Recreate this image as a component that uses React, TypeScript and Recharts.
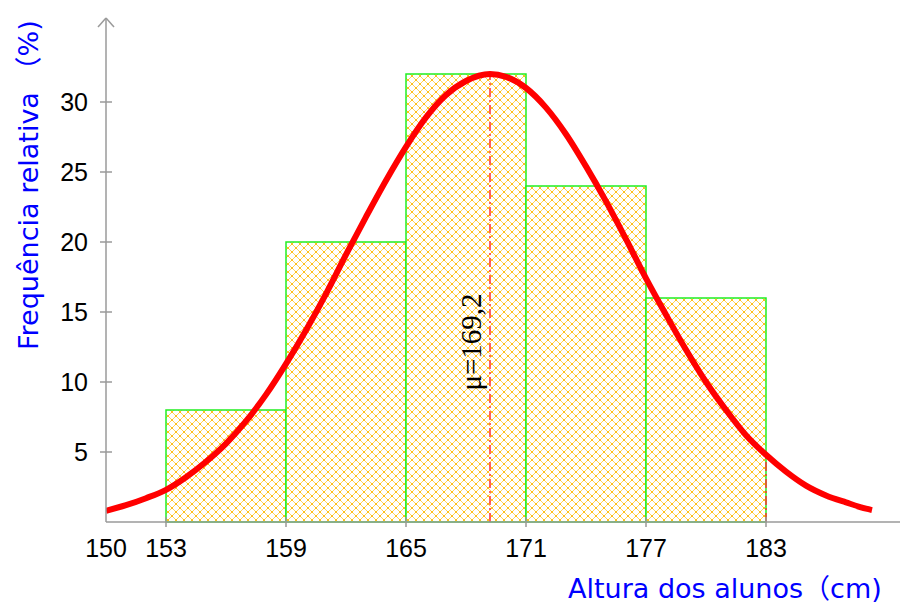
import React from 'react';
import { ComposedChart, Line, XAxis, YAxis, ReferenceArea, ReferenceLine, Label } from 'recharts';

// Histogram bins (height in cm) and relative frequency (%)
const binStarts = [153, 159, 165, 171, 177];
const binEnds = [159, 165, 171, 177, 183];
const relFreq = [8, 20, 32, 24, 16];

// Fitted normal curve
const curveX = [150, 151, 152, 153, 154, 155, 156, 157, 158, 159, 160, 161, 162, 163, 164, 165, 166, 167, 168, 169.2, 170, 171, 172, 173, 174, 175, 176, 177, 178, 179, 180, 181, 182, 183, 184, 185, 186, 187, 188, 188.3];
const curveY = [0.8, 1.2, 1.7, 2.3, 3.2, 4.3, 5.6, 7.2, 9.1, 11.3, 13.7, 16.3, 19.1, 21.8, 24.4, 26.8, 28.9, 30.5, 31.5, 32.0, 31.8, 31.0, 29.6, 27.7, 25.4, 22.9, 20.2, 17.4, 14.8, 12.3, 10.0, 8.0, 6.2, 4.8, 3.6, 2.6, 1.9, 1.4, 0.95, 0.85];

const xTicks = [150, 153, 159, 165, 171, 177, 183];
const yTicks = [5, 10, 15, 20, 25, 30];

const mu = 169.2;
const muPeak = 32.0;
const muLabel = 'μ=169,2';
const tailX = 183;
const tailY = 4.8;

const xTitle = 'Altura dos alunos（cm)';
const yTitle = 'Frequência relativa （%)';

const curveData = curveX.map((x, i) => ({ x, v: curveY[i] }));

const AXIS = '#9a9a9a';
const TICK_FONT = "'Liberation Sans', Arial, sans-serif";
const TITLE_FONT = "'DejaVu Sans', 'Noto Sans CJK SC', sans-serif";

function XTick(props: any) {
  const { x, y, payload } = props;
  return (
    <g>
      {payload.value !== 150 && (
        <line x1={x} x2={x} y1={y - 20} y2={y - 10} stroke={AXIS} strokeWidth={1.5} />
      )}
      <text x={x} y={y + 20} textAnchor="middle" fontFamily={TICK_FONT} fontSize={25} fill="#000">
        {payload.value}
      </text>
    </g>
  );
}

function YTick(props: any) {
  const { x, y, payload } = props;
  return (
    <g>
      <line x1={x + 12} x2={x + 24} y1={y} y2={y} stroke={AXIS} strokeWidth={1.5} />
      <text x={x} y={y + 9} textAnchor="end" fontFamily={TICK_FONT} fontSize={25} fill="#000">
        {payload.value}
      </text>
    </g>
  );
}

function XTitle(props: any) {
  const vb = props.viewBox || { x: 98, y: 514, width: 800, height: 40 };
  return (
    <text x={vb.x + 462} y={vb.y + 76} textAnchor="start" fontFamily={TITLE_FONT} fontSize={27} fill="#0000ff">
      {xTitle}
    </text>
  );
}

function YTitle(props: any) {
  const vb = props.viewBox || { x: 48, y: 10, width: 50, height: 504 };
  const tx = vb.x - 18;
  const ty = vb.y + 332;
  return (
    <text x={tx} y={ty} transform={`rotate(-90, ${tx}, ${ty})`} textAnchor="start" fontFamily={TITLE_FONT} fontSize={27} fill="#0000ff">
      {yTitle}
    </text>
  );
}

function MuLabel(props: any) {
  const vb = props.viewBox || { x: 482, y: 66, width: 0, height: 448 };
  const tx = vb.x - 9;
  const ty = vb.y + 268;
  return (
    <text x={tx} y={ty} transform={`rotate(-90, ${tx}, ${ty})`} textAnchor="middle" fontFamily="'Liberation Serif', 'Times New Roman', serif" fontSize={29} fill="#000">
      {muLabel}
    </text>
  );
}

export default function App() {
  return (
    <div style={{ width: 900, height: 596 }}>
      <svg width={0} height={0} style={{ position: 'absolute' }}>
        <defs>
          <pattern id="crossHatch" patternUnits="userSpaceOnUse" width={8} height={8}>
            <rect width={8} height={8} fill="#ffffff" />
            <path d="M0,0 L8,8 M8,0 L0,8" stroke="#ffd35a" strokeWidth={1} />
            <rect x={3} y={3} width={2} height={2} fill="#ffbf1a" />
            <rect x={-1} y={-1} width={2} height={2} fill="#ffbf1a" />
            <rect x={7} y={-1} width={2} height={2} fill="#ffbf1a" />
            <rect x={-1} y={7} width={2} height={2} fill="#ffbf1a" />
            <rect x={7} y={7} width={2} height={2} fill="#ffbf1a" />
          </pattern>
        </defs>
      </svg>
      <ComposedChart width={900} height={596} data={curveData} margin={{ top: 10, right: 2, bottom: 42, left: 48 }}>
        <XAxis
          type="number"
          dataKey="x"
          domain={[150, 190]}
          ticks={xTicks}
          interval={0}
          allowDataOverflow
          height={40}
          tickSize={5}
          tickMargin={10}
          tickLine={false}
          axisLine={{ stroke: AXIS, strokeWidth: 1.5 }}
          tick={<XTick />}
        >
          <Label content={<XTitle />} />
        </XAxis>
        <YAxis
          type="number"
          domain={[0, 36]}
          ticks={yTicks}
          interval={0}
          allowDataOverflow
          width={50}
          tickSize={6}
          tickMargin={12}
          tickLine={false}
          axisLine={{ stroke: AXIS, strokeWidth: 1.5 }}
          tick={<YTick />}
        >
          <Label content={<YTitle />} />
        </YAxis>
        {binStarts.map((s, i) => (
          <ReferenceArea
            key={`bin-${i}`}
            x1={s}
            x2={binEnds[i]}
            y1={0}
            y2={relFreq[i]}
            fill="url(#crossHatch)"
            fillOpacity={1}
            stroke="#22ee22"
            strokeWidth={1.5}
            ifOverflow="visible"
          />
        ))}
        <ReferenceLine
          segment={[{ x: mu, y: 0 }, { x: mu, y: muPeak }]}
          stroke="#ff3030"
          strokeWidth={1.5}
          strokeDasharray="9 3 2 3"
          ifOverflow="visible"
          label={<MuLabel />}
        />
        <ReferenceLine
          segment={[{ x: tailX, y: 0 }, { x: tailX, y: tailY }]}
          stroke="#ff3030"
          strokeWidth={1.5}
          strokeDasharray="9 3 2 3"
          ifOverflow="visible"
        />
        {/* axis arrows */}
        <ReferenceLine segment={[{ x: 149.6, y: 35.36 }, { x: 150, y: 36 }]} stroke={AXIS} strokeWidth={1.5} ifOverflow="visible" />
        <ReferenceLine segment={[{ x: 150.4, y: 35.36 }, { x: 150, y: 36 }]} stroke={AXIS} strokeWidth={1.5} ifOverflow="visible" />
        <ReferenceLine segment={[{ x: 189.95, y: 0.57 }, { x: 190.35, y: 0 }]} stroke={AXIS} strokeWidth={1.5} ifOverflow="visible" />
        <ReferenceLine segment={[{ x: 189.95, y: -0.57 }, { x: 190.35, y: 0 }]} stroke={AXIS} strokeWidth={1.5} ifOverflow="visible" />
        <Line
          type="monotone"
          dataKey="v"
          stroke="#ff0000"
          strokeWidth={6}
          dot={false}
          activeDot={false}
          isAnimationActive={false}
        />
      </ComposedChart>
    </div>
  );
}
